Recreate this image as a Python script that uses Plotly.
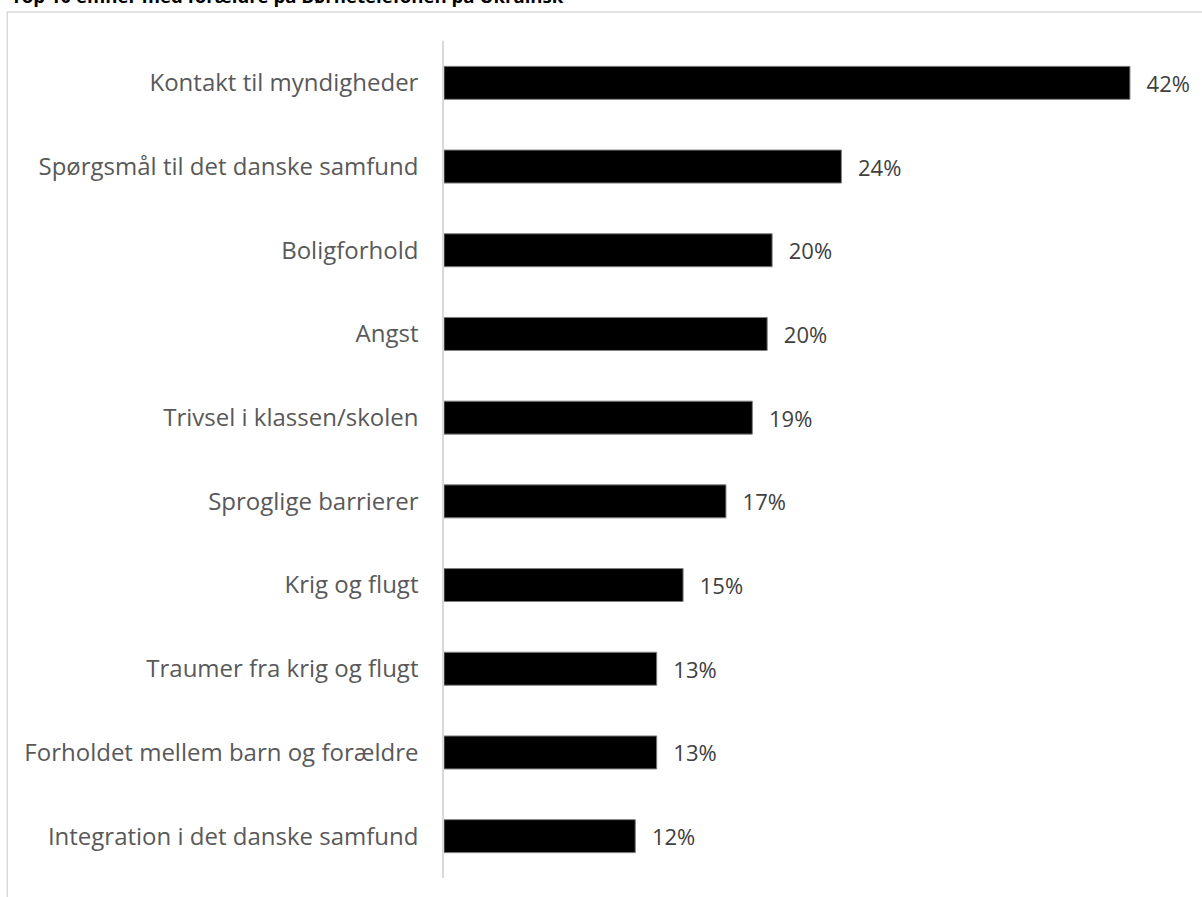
import plotly.graph_objects as go

title_text = "Top 10 emner med forældre på Børnetelefonen på Ukrainsk"

categories = [
    "Kontakt til myndigheder",
    "Spørgsmål til det danske samfund",
    "Boligforhold",
    "Angst",
    "Trivsel i klassen/skolen",
    "Sproglige barrierer",
    "Krig og flugt",
    "Traumer fra krig og flugt",
    "Forholdet mellem barn og forældre",
    "Integration i det danske samfund",
]
values = [41.6, 24.1, 19.9, 19.6, 18.7, 17.1, 14.5, 12.9, 12.9, 11.6]
value_labels = ["42%", "24%", "20%", "20%", "19%", "17%", "15%", "13%", "13%", "12%"]

W, H = 1202, 897
L, T, B = 444, 41, 19
x_max = 45
px_per_unit = 16.5
plot_w = x_max * px_per_unit
R = W - L - plot_w
plot_h = H - T - B

fig = go.Figure()
fig.add_trace(go.Bar(
    y=categories,
    x=values,
    orientation="h",
    width=0.394,
    marker=dict(color="#000000", line=dict(color="#7f7f7f", width=1)),
    text=["  \u200a" + t for t in value_labels],
    textposition="outside",
    textfont=dict(family="Open Sans", size=22, color="#404040"),
    cliponaxis=False,
    hoverinfo="skip",
))

frame_x0 = (7 - L) / plot_w
frame_y1 = (H - B - 12) / plot_h

fig.update_layout(
    width=W,
    height=H,
    margin=dict(l=L, r=R, t=T, b=B, pad=0),
    paper_bgcolor="white",
    plot_bgcolor="white",
    showlegend=False,
    font=dict(family="Open Sans", size=24, color="#595959"),
    xaxis=dict(range=[0, x_max], visible=False, fixedrange=True),
    yaxis=dict(
        categoryorder="array",
        categoryarray=categories[::-1],
        showline=True,
        linecolor="#d9d9d9",
        linewidth=1.5,
        ticks="",
        ticklabelstandoff=19,
        showgrid=False,
        tickfont=dict(family="Open Sans", size=24, color="#595959"),
        fixedrange=True,
    ),
    shapes=[dict(
        type="rect", xref="paper", yref="paper",
        x0=frame_x0, x1=1.2, y0=-0.2, y1=frame_y1,
        line=dict(color="#d9d9d9", width=1.5), fillcolor="rgba(0,0,0,0)",
        layer="below",
    )],
    annotations=[dict(
        text="<b>" + title_text + "</b>",
        xref="paper", yref="paper",
        x=(9 - L) / plot_w, xanchor="left",
        y=(H - B - 9.5) / plot_h, yanchor="bottom",
        showarrow=False,
        font=dict(family="Open Sans", size=18.6, color="#000000"),
    )],
)

fig.write_html("out.html", config={"displayModeBar": False},
               post_script="document.body.style.margin='0';")
